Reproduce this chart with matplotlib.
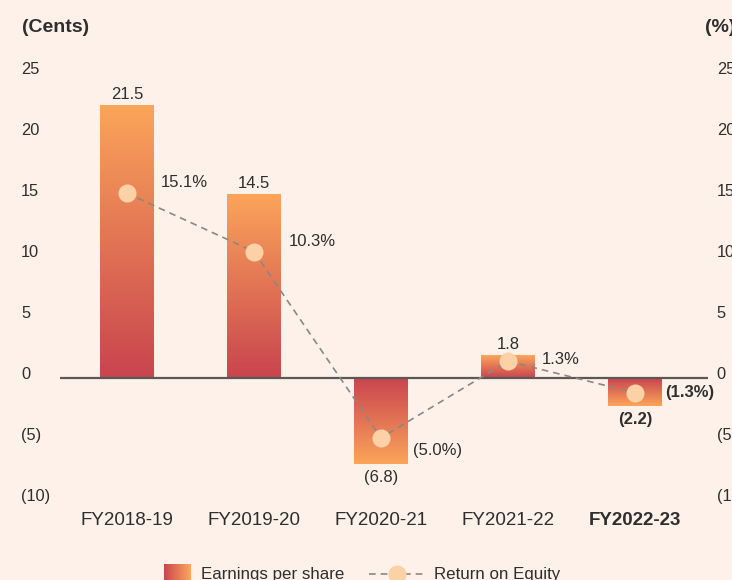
import numpy as np
import matplotlib
matplotlib.use("Agg")
import matplotlib.pyplot as plt
from matplotlib.colors import LinearSegmentedColormap
from matplotlib.legend_handler import HandlerBase
from matplotlib.patches import Rectangle
from matplotlib.lines import Line2D

# ---------------- data ----------------
categories = ["FY2018-19", "FY2019-20", "FY2020-21", "FY2021-22", "FY2022-23"]
eps = [21.5, 14.5, -6.8, 1.8, -2.2]
eps_labels = ["21.5", "14.5", "(6.8)", "1.8", "(2.2)"]
roe = [15.1, 10.3, -5.0, 1.3, -1.3]
roe_labels = ["15.1%", "10.3%", "(5.0%)", "1.3%", "(1.3%)"]
ytick_values = [25, 20, 15, 10, 5, 0, -5, -10]
ytick_labels = ["25", "20", "15", "10", "5", "0", "(5)", "(10)"]

# ---------------- style ----------------
BG = "#FDF1E9"
RED = "#C9444F"
ORANGE = "#FBA55A"
MARKER = "#FCD1A6"
DASH = "#8C8782"
TEXT = "#2E2E2E"
ZERO = "#5A5757"

plt.rcParams["font.family"] = ["Liberation Sans", "DejaVu Sans"]
plt.rcParams["text.color"] = TEXT

W, H, DPI = 732, 580, 100
P = 72 / DPI  # pixel -> point

fig = plt.figure(figsize=(W / DPI, H / DPI), dpi=DPI, facecolor=BG)

x0, x1, y_top, y_bot = 60, 708, 55, 500
step, first = 127, 127


def ylims(scale, zero_px):
    return (-(y_bot - zero_px) / scale, (zero_px - y_top) / scale)


rect = [x0 / W, 1 - y_bot / H, (x1 - x0) / W, (y_bot - y_top) / H]
ax = fig.add_axes(rect)
ax.patch.set_visible(False)
xlim = ((x0 - first) / step, (x1 - first) / step)

cmap = LinearSegmentedColormap.from_list("eps", [RED, ORANGE])
grad = np.linspace(0, 1, 256).reshape(-1, 1)
xs = np.arange(len(categories))

bars = ax.bar(xs, eps, width=0.425, color="none", edgecolor="none")
for b, v in zip(bars, eps):
    l = b.get_x()
    r = l + b.get_width()
    im = ax.imshow(grad, cmap=cmap, origin="lower", extent=(l, r, 0, v),
                   aspect="auto", interpolation="bilinear", zorder=2)
    im.set_clip_path(b)

ax.axhline(0, color=ZERO, lw=1.6, zorder=3)
ax.set_xlim(*xlim)
ax.set_ylim(*ylims(12.7, 378))

for x, v, lab in zip(xs, eps, eps_labels):
    bold = lab == eps_labels[-1]
    if v >= 0:
        ax.annotate(lab, (x, v), xytext=(0, 3 * P), textcoords="offset points",
                    ha="center", va="bottom", fontsize=12,
                    fontweight="bold" if bold else "normal")
    else:
        ax.annotate(lab, (x, v), xytext=(0, -6 * P), textcoords="offset points",
                    ha="center", va="top", fontsize=12,
                    fontweight="bold" if bold else "normal")

ax.set_xticks(xs, categories)
ax.tick_params(axis="x", length=0, pad=12 * P, labelsize=13.5, labelcolor=TEXT)
ax.get_xticklabels()[-1].set_fontweight("bold")
ax.set_yticks([])
for s in ax.spines.values():
    s.set_visible(False)

# ROE axis
ax2 = ax.twinx()
ax2.set_ylim(*ylims(12.17, 377))
ax2.plot(xs, roe, ls=(0, (4, 3)), color=DASH, lw=1.2, marker="o", ms=13,
         mfc=MARKER, mec="none", zorder=4)
roe_offsets_px = [(34, 11), (35, 10), (32, -13), (34, 2), (30, 0)]
for x, v, lab, (dx, dy) in zip(xs, roe, roe_labels, roe_offsets_px):
    bold = lab == roe_labels[-1]
    ax2.annotate(lab, (x, v), xytext=(dx * P, dy * P), textcoords="offset points",
                 ha="left", va="center", fontsize=12,
                 fontweight="bold" if bold else "normal")
ax2.set_yticks([])
for s in ax2.spines.values():
    s.set_visible(False)

# tick label axes (left and right)
for side in ("left", "right"):
    axt = ax.twinx()
    axt.set_ylim(*ylims(12.2, 373))
    axt.set_yticks(ytick_values, ytick_labels)
    for s in axt.spines.values():
        s.set_visible(False)
    if side == "left":
        axt.tick_params(axis="y", left=False, right=False, labelleft=True,
                        labelright=False, pad=34 * P, labelsize=11.8, labelcolor=TEXT)
        for t in axt.yaxis.get_major_ticks():
            t.label1.set_horizontalalignment("left")
    else:
        axt.tick_params(axis="y", left=False, right=False, labelleft=False,
                        labelright=True, pad=4 * P, labelsize=11.8, labelcolor=TEXT)

fig.text(22 / W, 1 - 27 / H, "(Cents)", fontsize=14, fontweight="bold",
         ha="left", va="center")
fig.text(705 / W, 1 - 27 / H, "(%)", fontsize=14, fontweight="bold",
         ha="left", va="center")


# legend
class GradientHandler(HandlerBase):
    def create_artists(self, legend, orig_handle, xdescent, ydescent, width,
                       height, fontsize, trans):
        pw, ph = 27 * P, 20 * P
        left = width - pw - xdescent
        bottom = (height - ph) / 2 - ydescent
        n = 40
        arts = []
        for i in range(n):
            r = Rectangle((left + pw * i / n, bottom), pw / n * 1.05, ph,
                          facecolor=cmap(i / (n - 1)), edgecolor="none",
                          transform=trans)
            arts.append(r)
        return arts


eps_proxy = Rectangle((0, 0), 1, 1)
roe_proxy = Line2D([], [], ls=(0, (4, 3)), color=DASH, lw=1.2, marker="o",
                   ms=13, mfc=MARKER, mec="none")
fs = 12.2
fig.legend([eps_proxy, roe_proxy], ["Earnings per share", "Return on Equity"],
           handler_map={eps_proxy: GradientHandler()},
           loc="center", bbox_to_anchor=(348 / W, 1 - 575 / H), ncol=2,
           frameon=False, fontsize=fs, numpoints=1,
           handlelength=55 / (fs / P), handletextpad=10 / (fs / P),
           columnspacing=25 / (fs / P), borderpad=0, borderaxespad=0)

fig.savefig("out.png", dpi=DPI, facecolor=BG)
